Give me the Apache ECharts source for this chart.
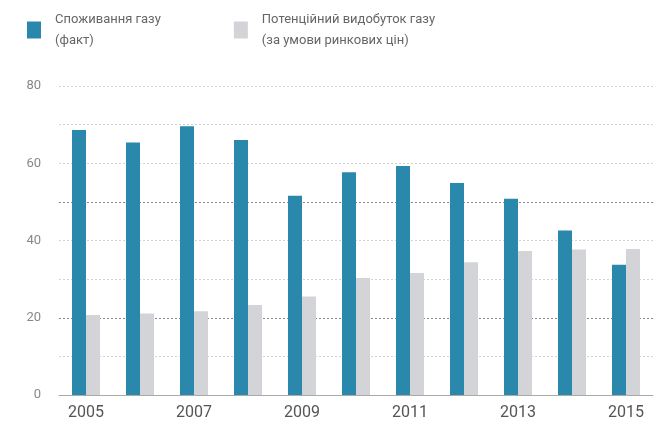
<!DOCTYPE html>
<html>
<head>
<meta charset="utf-8">
<script src="https://cdn.jsdelivr.net/npm/echarts@6/dist/echarts.min.js"></script>
<style>
  html, body { margin: 0; padding: 0; background: #fff; }
  #chart { width: 654px; height: 423px; }
</style>
</head>
<body>
<div id="chart"></div>
<script>
var years = ['2005','2006','2007','2008','2009','2010','2011','2012','2013','2014','2015'];
var consumption = [68.6, 65.4, 69.6, 66.0, 51.6, 57.7, 59.3, 54.9, 50.8, 42.6, 33.7];
var potential = [20.7, 21.1, 21.7, 23.3, 25.5, 30.3, 31.6, 34.4, 37.3, 37.7, 37.8];
var seriesNames = ['Споживання газу\n(факт)', 'Потенційний видобуток газу\n(за умови ринкових цін)'];

var chart = echarts.init(document.getElementById('chart'));

// кольори ліній сітки: 20 і 50 темніші
var light = '#d3d3d3', dark = '#888';

var option = {
    animation: false,
    textStyle: { fontFamily: 'Roboto, "Noto Sans", sans-serif' },
    legend: {
        left: 22,
        top: 4,
        itemWidth: 14,
        itemHeight: 17,
        itemGap: 73,
        icon: 'rect',
        textStyle: { color: '#666', fontSize: 13, lineHeight: 21, padding: [0, 0, 0, 9] },
        data: seriesNames
    },
    grid: { left: 59, right: 1, top: 86, bottom: 28 },
    xAxis: {
        type: 'category',
        data: years,
        axisLine: { lineStyle: { color: '#aaa' } },
        axisTick: { alignWithLabel: true, interval: 0, length: 5, lineStyle: { color: '#999' } },
        axisLabel: { interval: 1, color: '#555', fontSize: 16, margin: 10 }
    },
    yAxis: {
        type: 'value',
        min: 0,
        max: 80,
        interval: 10,
        axisLine: { show: false },
        axisTick: { show: false },
        axisLabel: {
            color: '#888', fontSize: 13, margin: 18,
            formatter: function (v) { return v % 20 === 0 ? v : ''; }
        },
        splitLine: {
            lineStyle: {
                type: [2, 2],
                color: [light, light, dark, light, light, dark, light, light, light]
            }
        }
    },
    series: [
        {
            name: seriesNames[0],
            type: 'bar',
            data: consumption,
            barWidth: 14,
            barGap: '0%',
            itemStyle: { color: '#2b88ad' }
        },
        {
            name: seriesNames[1],
            type: 'bar',
            data: potential,
            barWidth: 14,
            itemStyle: { color: '#d3d4d8' }
        }
    ]
};
chart.setOption(option);
</script>
</body>
</html>
